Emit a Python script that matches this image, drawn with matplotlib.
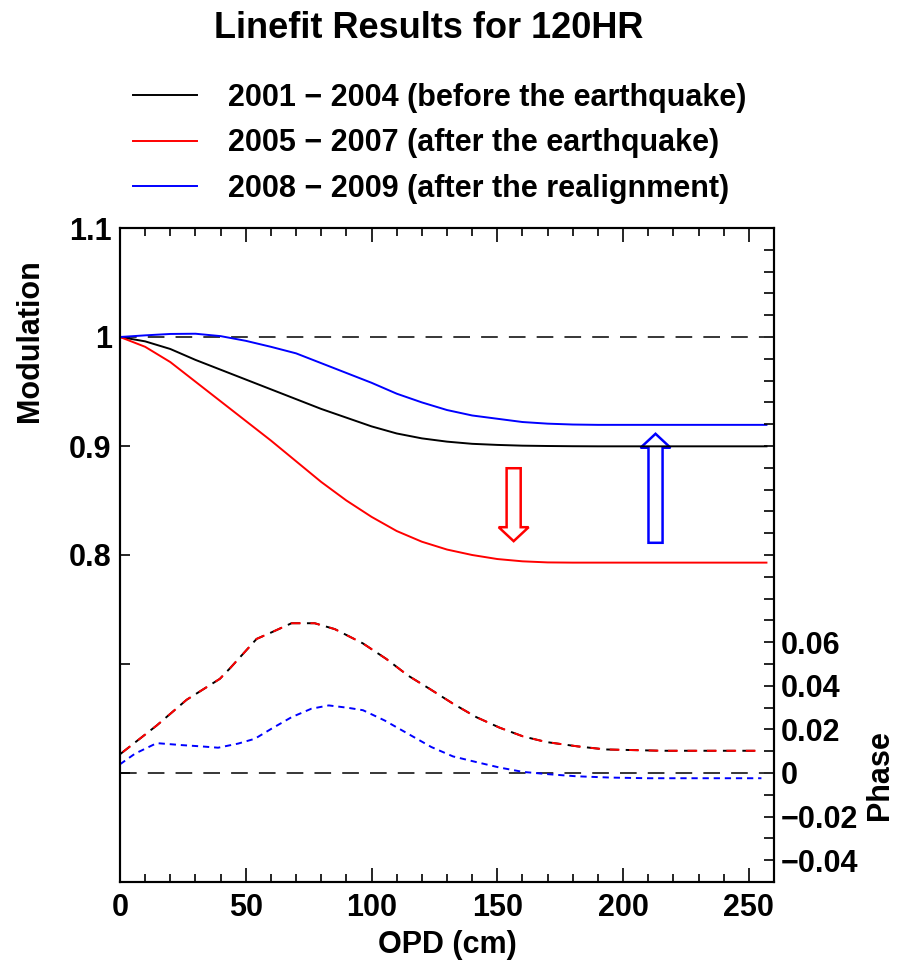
import numpy as np
import matplotlib
matplotlib.use("Agg")
import matplotlib.pyplot as plt
from matplotlib.ticker import MultipleLocator, FixedLocator, FixedFormatter
from matplotlib.lines import Line2D
from matplotlib.patches import FancyArrow

plt.rcParams['font.family'] = ['Liberation Sans', 'DejaVu Sans']
plt.rcParams['lines.scale_dashes'] = False

# ---------------- data ----------------
opd_mod = [0, 10, 20, 30, 40, 50, 60, 70, 80, 90, 100, 110, 120, 130, 140,
           150, 160, 170, 180, 190, 200, 257]
mod_2001_2004 = [1.000, 0.996, 0.989, 0.979, 0.970, 0.961, 0.952, 0.943, 0.934,
                 0.926, 0.918, 0.9115, 0.907, 0.904, 0.902, 0.901, 0.9003, 0.900,
                 0.8998, 0.8997, 0.8997, 0.8997]
mod_2005_2007 = [1.000, 0.991, 0.977, 0.959, 0.941, 0.923, 0.905, 0.886, 0.867,
                 0.850, 0.835, 0.822, 0.8122, 0.805, 0.800, 0.7963, 0.7942,
                 0.7932, 0.793, 0.793, 0.793, 0.793]
mod_2008_2009 = [1.000, 1.0015, 1.0028, 1.003, 1.0008, 0.9965, 0.991, 0.985,
                 0.976, 0.967, 0.958, 0.948, 0.940, 0.933, 0.928, 0.925, 0.922,
                 0.9205, 0.9197, 0.9194, 0.9194, 0.9194]

opd_phase = [0, 14.6, 26.5, 39.7, 43.7, 54.3, 60.2, 68.2, 77.4, 85.4, 96.5,
             105.9, 114.5, 123.1, 132.4, 141.7, 150.9, 160.2, 169.5, 182, 193,
             215.7, 255]
phase_2001_2007 = [0.0086, 0.0218, 0.0336, 0.0432, 0.048, 0.0615, 0.0645,
                   0.0687, 0.0687, 0.066, 0.0595, 0.0523, 0.0447, 0.0386,
                   0.0318, 0.0256, 0.0208, 0.0168, 0.0142, 0.0122, 0.0108,
                   0.0102, 0.0102]
opd_phase_b = [0, 6, 14.6, 24.5, 32.4, 39, 47, 53.6, 60.2, 68.2, 76.1, 83,
               90.7, 96.6, 105.2, 114.5, 123.8, 132.4, 141.7, 150.9, 160.2,
               170.8, 181.4, 195, 210, 255]
phase_2008_2009 = [0.004, 0.0089, 0.0137, 0.0128, 0.0122, 0.0116, 0.0135,
                   0.0157, 0.0203, 0.0256, 0.0295, 0.031, 0.0299, 0.0288,
                   0.0241, 0.018, 0.0119, 0.0076, 0.005, 0.0025, 0.0005,
                   -0.0006, -0.0015, -0.0021, -0.0024, -0.0024]

labels = ["2001 \u2212 2004 (before the earthquake)",
          "2005 \u2212 2007 (after the earthquake)",
          "2008 \u2212 2009 (after the realignment)"]
colors = ["black", "red", "blue"]

mod_ticks = [0.5, 0.6, 0.7, 0.8, 0.9, 1.0, 1.1]
mod_ticklabels = ["", "", "", "0.8", "0.9", "1", "1.1"]
phase_label_vals = [-0.04, -0.02, 0.0, 0.02, 0.04, 0.06]
phase_label_txt = ["\u22120.04", "\u22120.02", "0", "0.02", "0.04", "0.06"]

# ---------------- figure ----------------
W, H = 904, 973
fig = plt.figure(figsize=(W / 100, H / 100), dpi=100)
ax = fig.add_axes([120 / W, 1 - 882 / H, 654 / W, 654 / H])
ax2 = ax.twinx()

lw = 1.4
ax.plot([0, 256], [1, 1], color='black', lw=1.1, dashes=(12, 8))
ax.plot(opd_mod, mod_2001_2004, color='black', lw=lw)
ax.plot(opd_mod, mod_2005_2007, color='red', lw=lw)
ax.plot(opd_mod, mod_2008_2009, color='blue', lw=lw)

ax2.plot([0, 256], [0, 0], color='black', lw=1.1, dashes=(12, 8))
ax2.plot(opd_phase, phase_2001_2007, color='black', lw=lw, dashes=(9, 5))
ax2.plot(opd_phase, phase_2001_2007, color='red', lw=lw, dashes=(0, 2.5, 7, 4.5))
ax2.plot(opd_phase_b, phase_2008_2009, color='blue', lw=lw, dashes=(4.5, 3.5))

# arrows
ax.add_patch(FancyArrow(156.5, 0.8796, 0, 0.8127 - 0.8796, width=5.6,
                        head_width=11.9, head_length=0.0128,
                        length_includes_head=True, fc='white', ec='red', lw=1.8))
ax.add_patch(FancyArrow(212.9, 0.8112, 0, 0.9112 - 0.8112, width=5.6,
                        head_width=11.9, head_length=0.0128,
                        length_includes_head=True, fc='white', ec='blue', lw=1.8))

ax.set_xlim(0, 260)
ax.set_ylim(0.5, 1.1)
ax2.set_ylim(-0.05, 0.25)

ax.xaxis.set_major_locator(MultipleLocator(50))
ax.xaxis.set_minor_locator(MultipleLocator(10))
ax.tick_params(axis='x', which='both', direction='in', top=True, bottom=True,
               width=1.2, labelsize=22, pad=8)
ax.tick_params(axis='x', which='major', length=10)
ax.tick_params(axis='x', which='minor', length=6)
ax.yaxis.set_major_locator(FixedLocator(mod_ticks))
ax.yaxis.set_major_formatter(FixedFormatter(mod_ticklabels))
ax.tick_params(axis='y', which='both', direction='in', left=True, right=False,
               length=7, width=1.2, labelsize=22, pad=6)

ph_ticks = np.round(np.arange(-0.05, 0.2501, 0.01), 2)
ph_labels = []
for t in ph_ticks:
    lab = ""
    for v, s in zip(phase_label_vals, phase_label_txt):
        if abs(t - v) < 1e-6:
            lab = s
    ph_labels.append(lab)
ax2.yaxis.set_major_locator(FixedLocator(ph_ticks))
ax2.yaxis.set_major_formatter(FixedFormatter(ph_labels))
ax2.tick_params(axis='y', which='both', direction='in', right=True, left=False,
                length=7, width=1.2, labelsize=22, pad=5)

for a in (ax, ax2):
    for sp in a.spines.values():
        sp.set_linewidth(1.5)
for lab in ax.get_xticklabels() + ax.get_yticklabels() + ax2.get_yticklabels():
    lab.set_fontweight('bold')

ax.set_xlabel('OPD (cm)', fontsize=22, fontweight='bold', va='center')
ax.xaxis.set_label_coords(0.5, (882 - 945) / 654)
ax.set_ylabel('Modulation', fontsize=22, fontweight='bold', va='center')
ax.yaxis.set_label_coords((30 - 120) / 654, (882 - 341) / 654)
ax2.set_ylabel('Phase', fontsize=22, fontweight='bold', va='center', rotation=90)
ax2.yaxis.set_label_coords((880 - 120) / 654, (882 - 775) / 654)

fig.text(429 / W, 1 - 29 / H, 'Linefit Results for 120HR', fontsize=26,
         fontweight='bold', ha='center', va='center')

handles = [Line2D([], [], color=c, lw=1.4) for c in colors]
ax.legend(handles, labels, loc='upper left',
          bbox_to_anchor=(133 / W, 1 - 83 / H), bbox_transform=fig.transFigure,
          frameon=False, prop={'size': 22, 'weight': 'bold'},
          handlelength=2.1, handletextpad=1.0,
          labelspacing=0.5, borderpad=0, borderaxespad=0)

fig.savefig('out.png', dpi=100)
